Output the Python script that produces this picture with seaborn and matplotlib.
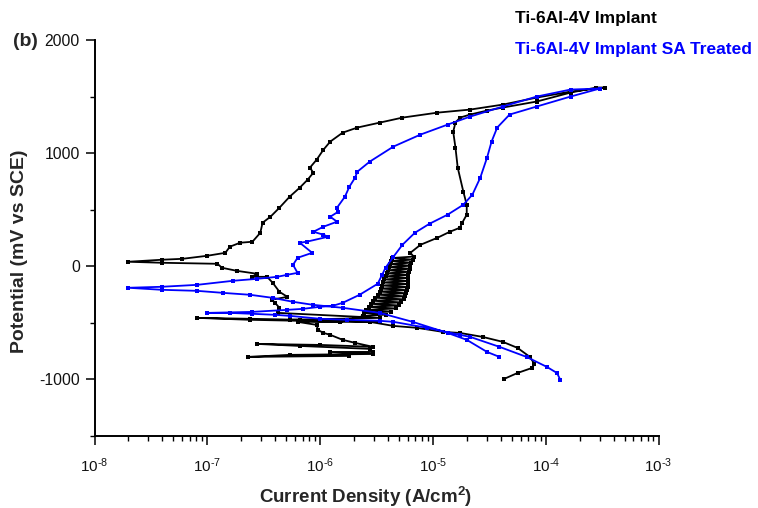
import numpy as np
import pandas as pd
import matplotlib
matplotlib.use("Agg")
import matplotlib.pyplot as plt
from matplotlib.ticker import MultipleLocator, LogLocator, NullFormatter, FixedFormatter
from matplotlib.lines import Line2D
import seaborn as sns

# ---------------- data (log10 of current density in A/cm2, potential in mV) -------------
series_names = ["Ti-6Al-4V Implant", "Ti-6Al-4V Implant SA Treated"]
series_colors = ["#000000", "#0000ff"]

black_log_i = [
    # forward cathodic
    -4.37, -4.25, -4.12, -4.10, -4.14, -4.25, -4.38, -4.56, -4.76, -4.91, -5.14, -5.35,
    -5.56, -5.82, -6.18, -6.62, -7.09, -6.62, -6.18, -5.82,
    # noisy anodic band
    -5.62, -5.42, -5.61, -5.37, -5.59, -5.33, -5.57, -5.30, -5.55, -5.28, -5.53, -5.26,
    -5.51, -5.25, -5.49, -5.24, -5.47, -5.23, -5.46, -5.22, -5.45, -5.22, -5.44, -5.22,
    -5.43, -5.22, -5.42, -5.22, -5.41, -5.21, -5.40, -5.20, -5.39, -5.20, -5.38, -5.19,
    -5.37, -5.18, -5.36, -5.17,
    # passive / transpassive
    -5.20, -5.11, -4.96, -4.85, -4.76, -4.74, -4.70, -4.70, -4.73, -4.78, -4.80, -4.82,
    -4.80, -4.76, -4.67, -4.52, -4.38, -4.08, -3.78, -3.55, -3.47,
    # reverse scan
    -3.78, -4.08, -4.38, -4.67, -4.96, -5.27, -5.47, -5.67, -5.80, -5.91, -5.97, -6.03,
    -6.09, -6.06, -6.11, -6.18, -6.27, -6.36, -6.44, -6.51, -6.53, -6.60, -6.71, -6.80,
    -6.84, -7.00, -7.22, -7.40, -7.70, -7.40, -6.91, -6.87, -6.74, -6.56, -6.60, -6.47,
    -6.42, -6.36, -6.29, -6.43, -6.40, -6.36, -6.37, -5.47, -6.27, -5.47, -6.20, -6.03,
    -6.02, -5.97, -5.91, -5.80, -5.69, -5.53, -6.00, -6.56, -6.18, -5.56, -5.53, -5.91,
    -5.53, -6.27, -6.64, -5.74,
]
black_potential = [
    -996, -943, -898, -863, -801, -721, -668, -624, -589, -580, -544, -527,
    -491, -482, -473, -464, -456, -473, -482, -491,
    -440, -427, -413, -400, -386, -373, -359, -346, -332, -319, -305, -292,
    -278, -265, -251, -238, -224, -211, -197, -184, -170, -157, -143, -130,
    -116, -103, -89, -76, -62, -49, -35, -22, -8, 5, 19, 32,
    46, 59, 73, 86,
    119, 190, 252, 305, 341, 385, 456, 544, 659, 872, 1049, 1190,
    1270, 1314, 1341, 1376, 1403, 1456, 1535, 1580, 1580,
    1544, 1491, 1429, 1385, 1358, 1314, 1270, 1226, 1181, 1102, 1031, 943,
    872, 827, 766, 695, 615, 518, 438, 385, 296, 217, 208, 173,
    119, 93, 66, 58, 40, 31, 22, -13, -40, -66, -93, -93,
    -146, -226, -270, -296, -323, -367, -412, -456, -473, -491, -491, -518,
    -562, -589, -606, -650, -677, -712, -695, -686, -704, -730, -757, -757,
    -775, -783, -801, -792,
]

blue_log_i = [
    # forward cathodic
    -3.87, -3.90, -3.99, -4.17, -4.41, -4.67, -4.76, -5.05, -5.35, -5.47, -5.76, -6.00,
    -6.27, -6.40, -6.60, -6.80, -7.00,
    # anodic
    -6.60, -6.29, -6.15, -6.00, -5.89, -5.80, -5.65, -5.49, -5.45, -5.42, -5.35, -5.27,
    -5.16, -5.03, -4.87, -4.73, -4.65, -4.58, -4.52, -4.48, -4.43, -4.32, -4.08, -3.78,
    -3.52,
    # reverse
    -3.78, -4.08, -4.38, -4.67, -4.87, -5.11, -5.35, -5.56, -5.67, -5.69, -5.74, -5.78,
    -5.85, -5.84, -5.91, -5.85, -5.97, -6.06, -5.97, -5.93, -6.12, -6.18, -6.07, -6.20,
    -6.24, -6.20, -6.29, -6.38, -6.56, -6.77, -7.09, -7.40, -7.70, -7.40, -7.09, -6.86,
    -6.62, -6.42, -6.24, -6.06, -5.80, -5.47, -5.18, -4.87, -4.70, -4.52, -4.41,
]
blue_potential = [
    -1004, -943, -889, -801, -712, -624, -606, -544, -491, -482, -473, -464,
    -438, -429, -420, -412, -412,
    -403, -385, -376, -358, -350, -323, -252, -155, -75, -13, 84, 190,
    296, 376, 456, 544, 633, 783, 960, 1102, 1226, 1341, 1412, 1500,
    1571,
    1562, 1500, 1412, 1323, 1252, 1164, 1058, 925, 836, 783, 704, 615,
    518, 482, 438, 394, 350, 305, 279, 261, 217, 208, 119, 75,
    13, -58, -75, -93, -111, -128, -164, -181, -190, -208, -217, -235,
    -252, -279, -314, -341, -367, -412, -491, -589, -650, -757, -801,
]

x_tick_exponents = [-8, -7, -6, -5, -4, -3]
x_tick_labels = ["10$^{\\text{-8}}$", "10$^{\\text{-7}}$", "10$^{\\text{-6}}$",
                 "10$^{\\text{-5}}$", "10$^{\\text{-4}}$", "10$^{\\text{-3}}$"]
y_ticks = [-1000, 0, 1000, 2000]

# ---------------- styling ----------------
sns.set_theme(style="ticks")
plt.rcParams["font.family"] = ["Liberation Sans", "DejaVu Sans"]
plt.rcParams["mathtext.fontset"] = "custom"
plt.rcParams["mathtext.rm"] = "Liberation Sans"
plt.rcParams["mathtext.it"] = "Liberation Sans:italic"
plt.rcParams["mathtext.bf"] = "Liberation Sans:bold"
plt.rcParams["axes.unicode_minus"] = False

frames = []
for name, li, pot in [(series_names[0], black_log_i, black_potential),
                      (series_names[1], blue_log_i, blue_potential)]:
    df = pd.DataFrame({"current": 10.0 ** np.array(li), "potential": pot})
    df["series"] = name
    frames.append(df)
data = pd.concat(frames, ignore_index=True)

fig = plt.figure(figsize=(7.58, 5.08), dpi=100)
ax = fig.add_axes([94.5 / 758, (508 - 436) / 508, 564 / 758, 396 / 508])

for name, color in zip(series_names, series_colors):
    sub = data[data["series"] == name]
    sns.lineplot(data=sub, x="current", y="potential", sort=False, estimator=None,
                 color=color, linewidth=1.3, marker="s", markersize=3.0,
                 markeredgewidth=0, ax=ax, legend=False)

ax.set_xscale("log")
ax.set_xlim(10.0 ** x_tick_exponents[0], 10.0 ** x_tick_exponents[-1])
ax.set_ylim(-1500, 2000)
ax.set_xticks([10.0 ** e for e in x_tick_exponents])
ax.xaxis.set_major_formatter(FixedFormatter(x_tick_labels))
ax.xaxis.set_minor_locator(LogLocator(base=10, subs=np.arange(2, 10)))
ax.xaxis.set_minor_formatter(NullFormatter())
ax.set_yticks(y_ticks)
ax.yaxis.set_minor_locator(MultipleLocator(500))

for s in ["top", "right"]:
    ax.spines[s].set_visible(False)
for s in ["left", "bottom"]:
    ax.spines[s].set_linewidth(1.4)
    ax.spines[s].set_color("black")

ax.tick_params(axis="both", which="major", direction="out", length=6.5, width=1.1, color="black")
ax.tick_params(axis="both", which="minor", direction="out", length=3.5, width=1.0, color="black")
ax.tick_params(axis="x", which="major", labelsize=11, pad=8, labelcolor="#111111")
ax.tick_params(axis="y", which="major", labelsize=11.3, pad=4, labelcolor="#111111")

ax.set_xlabel("Current Density (A/cm$^{\\mathbf{2}}$)", fontsize=13.5, fontweight="bold")
ax.set_ylabel("Potential (mV vs SCE)", fontsize=14, fontweight="bold")
ax.xaxis.set_label_coords(0.481, -0.153)
ax.yaxis.set_label_coords(-0.133, 0.467)
ax.xaxis.label.set_va("center")
ax.yaxis.label.set_va("center")

fig.text(25 / 758, 1 - 42 / 508, "(b)", ha="center", va="center",
         fontsize=14, fontweight="bold")

handles = [Line2D([], [], color=c, linestyle="none") for c in series_colors]
leg = ax.legend(handles, series_names, loc="upper left",
                bbox_to_anchor=(515 / 758, 1 - 11 / 508), bbox_transform=fig.transFigure,
                frameon=False, handlelength=0, handletextpad=0, borderpad=0,
                borderaxespad=0, labelspacing=0.92, labelcolor=series_colors,
                prop={"size": 12.5, "weight": "bold"})

fig.savefig("out.png", dpi=100)
